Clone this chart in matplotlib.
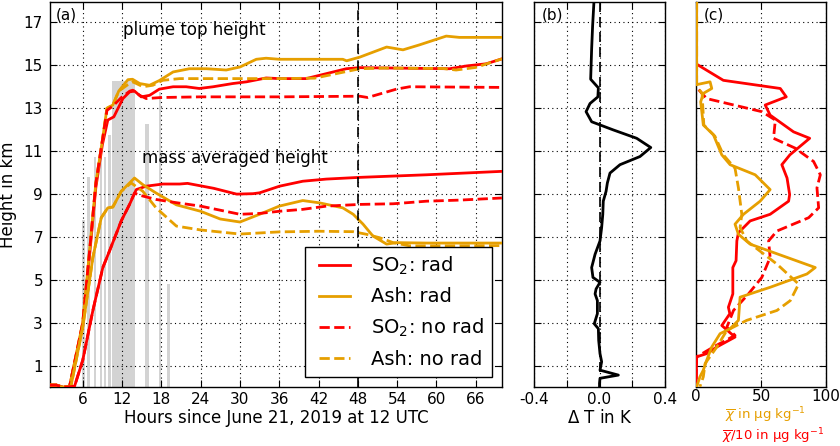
import numpy as np
import matplotlib
matplotlib.use('Agg')
import matplotlib.pyplot as plt
from matplotlib.lines import Line2D
from matplotlib.legend_handler import HandlerLine2D

plt.rcParams['font.family'] = 'DejaVu Sans'
plt.rcParams['font.size'] = 11
plt.rcParams['mathtext.fontset'] = 'dejavusans'

RED = '#ff0000'
ORANGE = '#e69f00'

# eruption column observations (grey bars)
bar_hours = [6.1, 6.9, 7.9, 8.75, 9.45, 10.1, 12.25, 15.85, 17.8, 19.1]
bar_widths = [0.4, 0.4, 0.4, 0.35, 0.35, 0.35, 3.5, 0.6, 0.4, 0.35]
bar_heights = [7.8, 9.8, 10.75, 10.7, 10.75, 11.75, 14.25, 12.25, 13.75, 4.8]

# plume top height
top_so2_rad_t = [1, 2, 3, 4, 6, 7, 8, 9, 9.83, 10.75, 12.13, 13.15, 13.9, 14.93, 16.2, 17.7, 19.8, 21.8,
                 23.8, 25.9, 28.9, 31, 34, 36, 40.1, 46.25, 48.3, 62, 64.6, 67.6, 70]
top_so2_rad = [0.1, 0.1, 0, 0.05, 2.9, 6.0, 9.3, 11.3, 12.45, 12.6, 13.45, 13.76, 13.8, 13.53, 13.6, 13.89,
               14.0, 14.0, 13.92, 14.0, 14.15, 14.23, 14.41, 14.38, 14.38, 14.84, 14.89, 14.84, 14.97, 15.07, 15.3]

top_ash_rad_t = [1, 2, 3, 4, 6, 7, 8, 9, 9.7, 10.6, 11.5, 12.9, 13.6, 14.7, 16.2, 17.7, 19.8, 22.3, 24.9,
                 27.9, 30, 32.5, 34, 36, 40, 45.7, 46.3, 48.3, 52.4, 54.9, 57.4, 61.5, 63.5, 70]
top_ash_rad = [0.1, 0.1, 0, 0.05, 3.0, 6.2, 9.5, 11.5, 13.0, 13.15, 13.8, 14.33, 14.35, 14.15, 14.07, 14.29,
               14.69, 14.84, 14.84, 14.78, 14.92, 15.28, 15.33, 15.28, 15.28, 15.28, 15.21, 15.38, 15.85,
               15.72, 15.95, 16.36, 16.3, 16.3]

top_so2_norad_t = [1, 2, 3, 4, 6, 7, 8, 9, 9.7, 10.6, 11.9, 13.2, 13.65, 14.7, 15.7, 18, 24, 36, 48.3,
                   49.5, 53.9, 55.9, 70]
top_so2_norad = [0.1, 0.1, 0, 0.05, 3.0, 6.2, 9.5, 11.5, 12.9, 13.1, 13.5, 13.8, 13.84, 13.6, 13.45, 13.5,
                 13.53, 13.53, 13.56, 13.5, 13.89, 14.0, 13.97]

top_ash_norad_t = [1, 2, 3, 4, 6, 7, 8, 9, 9.7, 10.6, 11.5, 12.9, 13.65, 15.2, 16.7, 18.2, 20.8, 36, 41.4,
                   48.3, 52, 61, 63, 66, 70]
top_ash_norad = [0.1, 0.1, 0, 0.05, 3.0, 6.2, 9.5, 11.5, 13.0, 13.15, 13.8, 14.1, 14.23, 14.0, 14.07, 14.3,
                 14.38, 14.38, 14.4, 14.84, 14.87, 14.85, 14.78, 14.9, 15.3]

# mass averaged height
avg_so2_rad_t = [1, 2, 3, 4.75, 6, 7.55, 9.07, 10.1, 11.88, 13.15, 14.17, 15.7, 18.24, 20.8, 22, 26, 29.5,
                 32, 33, 36.06, 39.6, 43.2, 48.3, 58.5, 70]
avg_so2_rad = [0.1, 0.1, 0, 0.05, 1.26, 3.58, 5.58, 6.36, 7.75, 8.52, 9.21, 9.37, 9.47, 9.47, 9.5, 9.27, 9.0,
               9.02, 9.06, 9.37, 9.6, 9.7, 9.78, 9.9, 10.06]

avg_ash_rad_t = [1, 2, 3, 4.2, 6, 7.55, 8.83, 9.83, 10.6, 11.88, 13.15, 13.9, 15.18, 17.2, 20.3, 24, 27, 30,
                 33, 36, 39.6, 42.2, 45.7, 47.3, 48.8, 50.3, 52.4, 53.9, 58.5, 70]
avg_ash_rad = [0.1, 0.1, 0, 0.05, 2.8, 6.05, 7.9, 8.36, 8.4, 9.13, 9.52, 9.75, 9.44, 9.05, 8.5, 8.2, 7.84,
               7.7, 8.06, 8.44, 8.7, 8.59, 8.36, 8.06, 7.6, 7.05, 6.67, 6.74, 6.72, 6.72]

avg_so2_norad_t = [1, 2, 3, 4.75, 6, 7.55, 9.07, 10.1, 11.88, 13.15, 13.9, 14.67, 17.2, 20.3, 24, 30, 33,
                   36, 39.6, 43.2, 48.3, 53.4, 58.5, 63.5, 70]
avg_so2_norad = [0.1, 0.1, 0, 0.05, 1.26, 3.58, 5.58, 6.36, 7.75, 8.52, 9.05, 8.95, 8.75, 8.6, 8.44, 8.06,
                 8.1, 8.2, 8.29, 8.44, 8.52, 8.55, 8.67, 8.72, 8.82]

avg_ash_norad_t = [1, 2, 3, 4.2, 6, 7.55, 8.83, 9.83, 10.6, 11.88, 13.4, 15.18, 17.2, 20.3, 24, 30, 36, 42,
                   47.3, 49.3, 51.3, 53.4, 55.9, 61, 70]
avg_ash_norad = [0.1, 0.1, 0, 0.05, 2.8, 6.05, 7.9, 8.36, 8.4, 9.13, 9.52, 9.13, 8.36, 7.51, 7.33, 7.14,
                 7.24, 7.27, 7.25, 7.13, 6.97, 6.74, 6.59, 6.59, 6.6]

# (b) temperature difference profile
dT = [-0.034, -0.042, -0.048, -0.054, -0.007, -0.01, -0.058, -0.082, -0.048, 0.084, 0.227, 0.313, 0.247,
      0.125, 0.064, 0.048, 0.04, 0.023, 0.02, 0.013, 0.003, -0.027, -0.048, -0.04, 0.003, -0.021, -0.027,
      -0.013, -0.013, -0.032, -0.007, -0.005, 0.003, 0.013, 0.003, 0.115, 0.003, 0.0, 0.0]
dT_z = [17.95, 16.85, 15.77, 14.35, 13.95, 13.53, 13.22, 12.84, 12.37, 11.99, 11.6, 11.17, 10.75, 10.37,
        9.98, 9.52, 9.13, 8.67, 8.06, 7.44, 6.82, 6.2, 5.58, 5.12, 4.89, 4.58, 4.35, 4.04, 3.43, 2.96, 2.73,
        2.19, 1.57, 1.19, 0.8, 0.57, 0.42, 0.19, 0.03]

# (c) mean mixing ratio profiles
so2_rad_x = [0, 0, 21, 64.8, 69.4, 53.2, 57, 75, 87.4, 72.2, 66, 70, 72, 71.2, 57, 41.6, 32.6, 31.4, 30.8,
             28.3, 28.3, 24.9, 26, 19.8, 30, 16, 8.2, 0.5, 0]
so2_rad_z = [17.95, 15.07, 14.3, 13.92, 13.53, 13.15, 12.68, 11.9, 11.6, 10.83, 10.37, 9.75, 8.98, 8.67,
             8.06, 7.75, 7.2, 6.82, 5.9, 5.58, 4.35, 3.73, 3.43, 2.88, 2.34, 1.88, 1.57, 1.42, 0.03]

so2_norad_x = [0, 0, 1.5, 8.2, 50.6, 61, 59.6, 76.3, 90.4, 95.6, 93, 94.3, 86.6, 62.2, 55.8, 57, 50.6,
               40.3, 28.8, 23.7, 30, 13.4, 0.5, 0]
so2_norad_z = [17.95, 14.1, 13.9, 13.45, 12.84, 12.45, 11.6, 11.14, 10.52, 9.9, 9.29, 8.36, 7.9, 7.28,
               6.82, 6.05, 5.12, 4.35, 3.58, 2.8, 2.42, 1.88, 1.42, 0.03]

ash_rad_x = [0.5, 0.5, 10.8, 12.1, 5.6, 3.6, 5.6, 13.4, 19.8, 26.2, 45.5, 57, 49.3, 36.5, 30, 32.6, 41.6,
             91.7, 85.3, 57, 33.9, 32.6, 26.2, 18.5, 12.1, 8.2, 5.6, 3, 0.5]
ash_rad_z = [17.95, 14.1, 14.23, 13.92, 13.69, 13.3, 12.22, 11.76, 10.83, 10.37, 9.9, 9.21, 8.67, 8.06,
             7.6, 7.13, 6.67, 5.58, 5.28, 4.66, 4.2, 3.12, 2.73, 2.5, 1.88, 1.26, 0.8, 0.49, 0.03]

ash_norad_x = [0.5, 0.5, 1.8, 4.7, 5, 6, 14.5, 21, 30, 32.6, 35.2, 33.9, 39, 62.2, 78.9, 72.5, 62.2, 39,
               23.7, 16, 7, 5.6, 3]
ash_norad_z = [17.95, 14.1, 13.92, 13.69, 13.3, 12.22, 11.7, 10.83, 10.2, 9.29, 8.06, 7.44, 6.82, 5.74,
               4.81, 4.04, 3.58, 3.12, 2.65, 1.88, 1.11, 0.49, 0.03]

hour_ticks = list(range(6, 67, 6))
height_ticks = list(range(1, 18, 2))
ylim = (0.03, 17.95)

fig = plt.figure(figsize=(8.4, 4.46), dpi=100)
ax1 = fig.add_axes([0.0595, 0.133, 0.538, 0.8626])
ax2 = fig.add_axes([0.6357, 0.133, 0.156, 0.8626])
ax3 = fig.add_axes([0.8286, 0.133, 0.1548, 0.8626])

for ax in (ax1, ax2, ax3):
    ax.set_ylim(*ylim)
    ax.set_yticks(height_ticks)
    ax.tick_params(direction='in', top=True, right=True, length=5, width=0.8, labelsize=11)
    ax.tick_params(axis='x', pad=3.5)
    ax.tick_params(axis='y', pad=5)
    ax.grid(True, color='k', linestyle=(0, (1, 3)), linewidth=0.8)
    ax.set_axisbelow(False)
    for s in ax.spines.values():
        s.set_linewidth(1.0)

# (a)
ax1.bar(bar_hours, bar_heights, width=bar_widths, color='lightgray', zorder=1)
lw = 2
ax1.plot(top_so2_rad_t, top_so2_rad, color=RED, lw=lw, zorder=3, label='SO$_2$: rad')
ax1.plot(top_ash_rad_t, top_ash_rad, color=ORANGE, lw=lw, zorder=3, label='Ash: rad')
ax1.plot(top_ash_norad_t, top_ash_norad, color=ORANGE, lw=lw, ls='--', zorder=3)
ax1.plot(top_so2_norad_t, top_so2_norad, color=RED, lw=lw, ls='--', zorder=3, label='SO$_2$: no rad')
ax1.plot(avg_so2_rad_t, avg_so2_rad, color=RED, lw=lw, zorder=3)
ax1.plot(avg_ash_rad_t, avg_ash_rad, color=ORANGE, lw=lw, zorder=3)
ax1.plot(avg_ash_norad_t, avg_ash_norad, color=ORANGE, lw=lw, ls='--', zorder=3, label='Ash: no rad')
ax1.plot(avg_so2_norad_t, avg_so2_norad, color=RED, lw=lw, ls='--', zorder=3)
ax1.axvline(48, color='k', lw=1.2, dashes=(6, 4), zorder=3)

ax1.set_xlim(1, 70)
ax1.set_xticks(hour_ticks)
ax1.set_xlabel('Hours since June 21, 2019 at 12 UTC', fontsize=12, labelpad=2)
ax1.set_ylabel('Height in km', fontsize=12, labelpad=5)
ax1.text(0.012, 0.985, '(a)', transform=ax1.transAxes, ha='left', va='top', fontsize=11)
ax1.text(12.1, 16.63, 'plume top height', ha='left', va='center', fontsize=12)
ax1.text(15.1, 10.7, 'mass averaged height', ha='left', va='center', fontsize=12)

leg = ax1.legend(loc='lower right', fontsize=14, frameon=True, fancybox=False, edgecolor='k',
                 framealpha=1, handlelength=1.9, handletextpad=1.1, borderaxespad=0.5,
                 labelspacing=0.55, handler_map={Line2D: HandlerLine2D(xpad=0.3)})
leg.get_frame().set_linewidth(1.0)
leg.set_zorder(5)

# (b)
ax2.plot(dT, dT_z, color='k', lw=2, zorder=3)
ax2.axvline(0, color='k', lw=1.2, dashes=(6, 3), zorder=3)
ax2.set_xlim(-0.4, 0.4)
ax2.set_xticks([-0.4, -0.2, 0.0, 0.2, 0.4])
ax2.set_xticklabels(['-0.4', '', '0.0', '', '0.4'])
ax2.set_yticklabels([])
ax2.set_xlabel('$\\Delta$ T in K', fontsize=12, labelpad=2)
ax2.text(0.06, 0.985, '(b)', transform=ax2.transAxes, ha='left', va='top', fontsize=11)

# (c)
ax3.plot(so2_rad_x, so2_rad_z, color=RED, lw=2, zorder=3)
ax3.plot(so2_norad_x, so2_norad_z, color=RED, lw=2, ls='--', zorder=3)
ax3.plot(ash_rad_x, ash_rad_z, color=ORANGE, lw=2, zorder=3)
ax3.plot(ash_norad_x, ash_norad_z, color=ORANGE, lw=2, ls='--', zorder=3)
ax3.set_xlim(0, 100)
ax3.set_xticks([0, 50, 100])
ax3.tick_params(axis='x', pad=2)
ax3.set_yticklabels([])
ax3.text(0.06, 0.985, '(c)', transform=ax3.transAxes, ha='left', va='top', fontsize=11)
fig.text(765 / 840, 1 - 419 / 446, '$\\overline{\\chi}$ in µg kg$^{-1}$', color=ORANGE,
         ha='center', va='baseline', fontsize=9.5)
fig.text(773 / 840, 1 - 440 / 446, '$\\overline{\\chi}$/10 in µg kg$^{-1}$', color=RED,
         ha='center', va='baseline', fontsize=9.5)

fig.savefig('out.png', dpi=100, facecolor='white')
